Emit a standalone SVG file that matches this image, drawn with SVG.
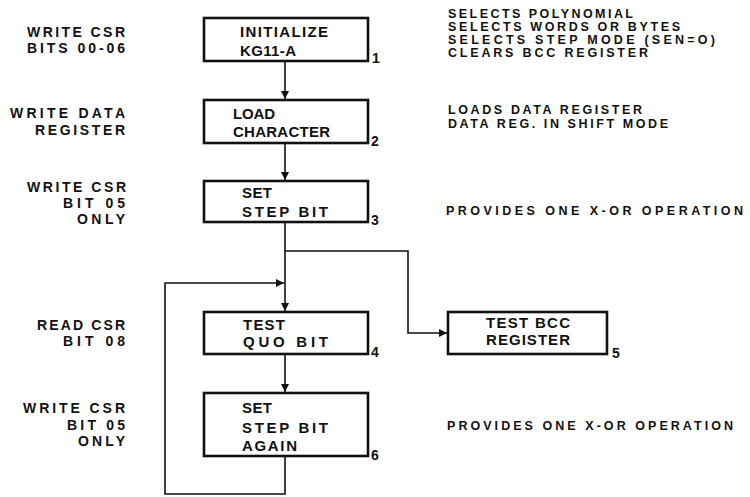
<svg xmlns="http://www.w3.org/2000/svg" width="750" height="497" viewBox="0 0 750 497">
<style>
  .box { fill: #fff; stroke: #111; stroke-width: 2.6; }
  .ln { fill: none; stroke: #111; stroke-width: 1.6; }
  text { font-family: "Liberation Sans", Arial, sans-serif; font-weight: bold; fill: #111; }
  .bt { font-size: 15px; }
  .lt { font-size: 14px; text-anchor: end; }
  .rt { font-size: 12.5px; }
  .num { font-size: 14px; }
</style>
<defs>
  <marker id="ah" viewBox="0 0 10 10" refX="10" refY="5" markerWidth="10" markerHeight="8" markerUnits="userSpaceOnUse" orient="auto">
    <path d="M0,0 L10,5 L0,10 Z" fill="#111"/>
  </marker>
</defs>
<rect width="750" height="497" fill="#fff"/>

<g id="connectors">
  <line class="ln" x1="285" y1="61" x2="285" y2="99" marker-end="url(#ah)"/>
  <line class="ln" x1="285" y1="144" x2="285" y2="180" marker-end="url(#ah)"/>
  <line class="ln" x1="285" y1="222" x2="285" y2="311" marker-end="url(#ah)"/>
  <polyline class="ln" points="285,251 408,251 408,333 447,333" marker-end="url(#ah)"/>
  <line class="ln" x1="285" y1="354" x2="285" y2="392" marker-end="url(#ah)"/>
  <polyline class="ln" points="285,456 285,494 165,494 165,283 284,283" marker-end="url(#ah)"/>
</g>

<g id="node1">
  <rect class="box" x="204" y="18" width="164" height="43"/>
  <text class="bt" x="240" y="37" textLength="88" lengthAdjust="spacing">INITIALIZE</text>
  <text class="bt" x="240" y="56" textLength="56" lengthAdjust="spacing">KG11-A</text>
  <text class="num" x="372" y="63">1</text>
</g>
<g id="node2">
  <rect class="box" x="204" y="100" width="164" height="43"/>
  <text class="bt" x="233" y="119" textLength="42" lengthAdjust="spacing">LOAD</text>
  <text class="bt" x="233" y="137" textLength="97" lengthAdjust="spacing">CHARACTER</text>
  <text class="num" x="371" y="146">2</text>
</g>
<g id="node3">
  <rect class="box" x="204" y="181" width="164" height="41"/>
  <text class="bt" x="242" y="198" textLength="30" lengthAdjust="spacing">SET</text>
  <text class="bt" x="242" y="217" textLength="86" lengthAdjust="spacing">STEP BIT</text>
  <text class="num" x="371" y="225">3</text>
</g>
<g id="node4">
  <rect class="box" x="204" y="312" width="164" height="42"/>
  <text class="bt" x="243" y="330" textLength="42" lengthAdjust="spacing">TEST</text>
  <text class="bt" x="243" y="347" textLength="85" lengthAdjust="spacing">QUO BIT</text>
  <text class="num" x="371" y="357">4</text>
</g>
<g id="node5">
  <rect class="box" x="448" y="312" width="159" height="42"/>
  <text class="bt" x="528" y="328" text-anchor="middle" textLength="84" lengthAdjust="spacing">TEST BCC</text>
  <text class="bt" x="528" y="345" text-anchor="middle" textLength="84" lengthAdjust="spacing">REGISTER</text>
  <text class="num" x="612" y="358">5</text>
</g>
<g id="node6">
  <rect class="box" x="204" y="393" width="164" height="63"/>
  <text class="bt" x="242" y="413" textLength="30" lengthAdjust="spacing">SET</text>
  <text class="bt" x="242" y="433" textLength="86" lengthAdjust="spacing">STEP BIT</text>
  <text class="bt" x="242" y="451" textLength="55" lengthAdjust="spacing">AGAIN</text>
  <text class="num" x="371" y="460">6</text>
</g>

<g id="left-labels">
  <text class="lt" x="125" y="37" textLength="98" lengthAdjust="spacing">WRITE CSR</text>
  <text class="lt" x="125" y="53" textLength="98" lengthAdjust="spacing">BITS 00-06</text>
  <text class="lt" x="125" y="118" textLength="115" lengthAdjust="spacing">WRITE DATA</text>
  <text class="lt" x="125" y="135" textLength="90" lengthAdjust="spacing">REGISTER</text>
  <text class="lt" x="126" y="192" textLength="99" lengthAdjust="spacing">WRITE CSR</text>
  <text class="lt" x="125" y="208" textLength="62" lengthAdjust="spacing">BIT 05</text>
  <text class="lt" x="125" y="224" textLength="48" lengthAdjust="spacing">ONLY</text>
  <text class="lt" x="125" y="330" textLength="88" lengthAdjust="spacing">READ CSR</text>
  <text class="lt" x="125" y="346" textLength="62" lengthAdjust="spacing">BIT 08</text>
  <text class="lt" x="125" y="413" textLength="102" lengthAdjust="spacing">WRITE CSR</text>
  <text class="lt" x="125" y="430" textLength="58" lengthAdjust="spacing">BIT 05</text>
  <text class="lt" x="125" y="446" textLength="47" lengthAdjust="spacing">ONLY</text>
</g>

<g id="right-notes">
  <text class="rt" x="448" y="18" textLength="185" lengthAdjust="spacing">SELECTS POLYNOMIAL</text>
  <text class="rt" x="448" y="31" textLength="232" lengthAdjust="spacing">SELECTS WORDS OR BYTES</text>
  <text class="rt" x="448" y="44" textLength="267" lengthAdjust="spacing">SELECTS STEP MODE (SEN=O)</text>
  <text class="rt" x="448" y="57" textLength="200" lengthAdjust="spacing">CLEARS BCC REGISTER</text>
  <text class="rt" x="448" y="114" textLength="194" lengthAdjust="spacing">LOADS DATA REGISTER</text>
  <text class="rt" x="448" y="128" textLength="220" lengthAdjust="spacing">DATA REG. IN SHIFT MODE</text>
  <text class="rt" x="446" y="215" font-size="13" textLength="297" lengthAdjust="spacing">PROVIDES ONE X-OR OPERATION</text>
  <text class="rt" x="447" y="430" font-size="13" textLength="286" lengthAdjust="spacing">PROVIDES ONE X-OR OPERATION</text>
</g>
</svg>
